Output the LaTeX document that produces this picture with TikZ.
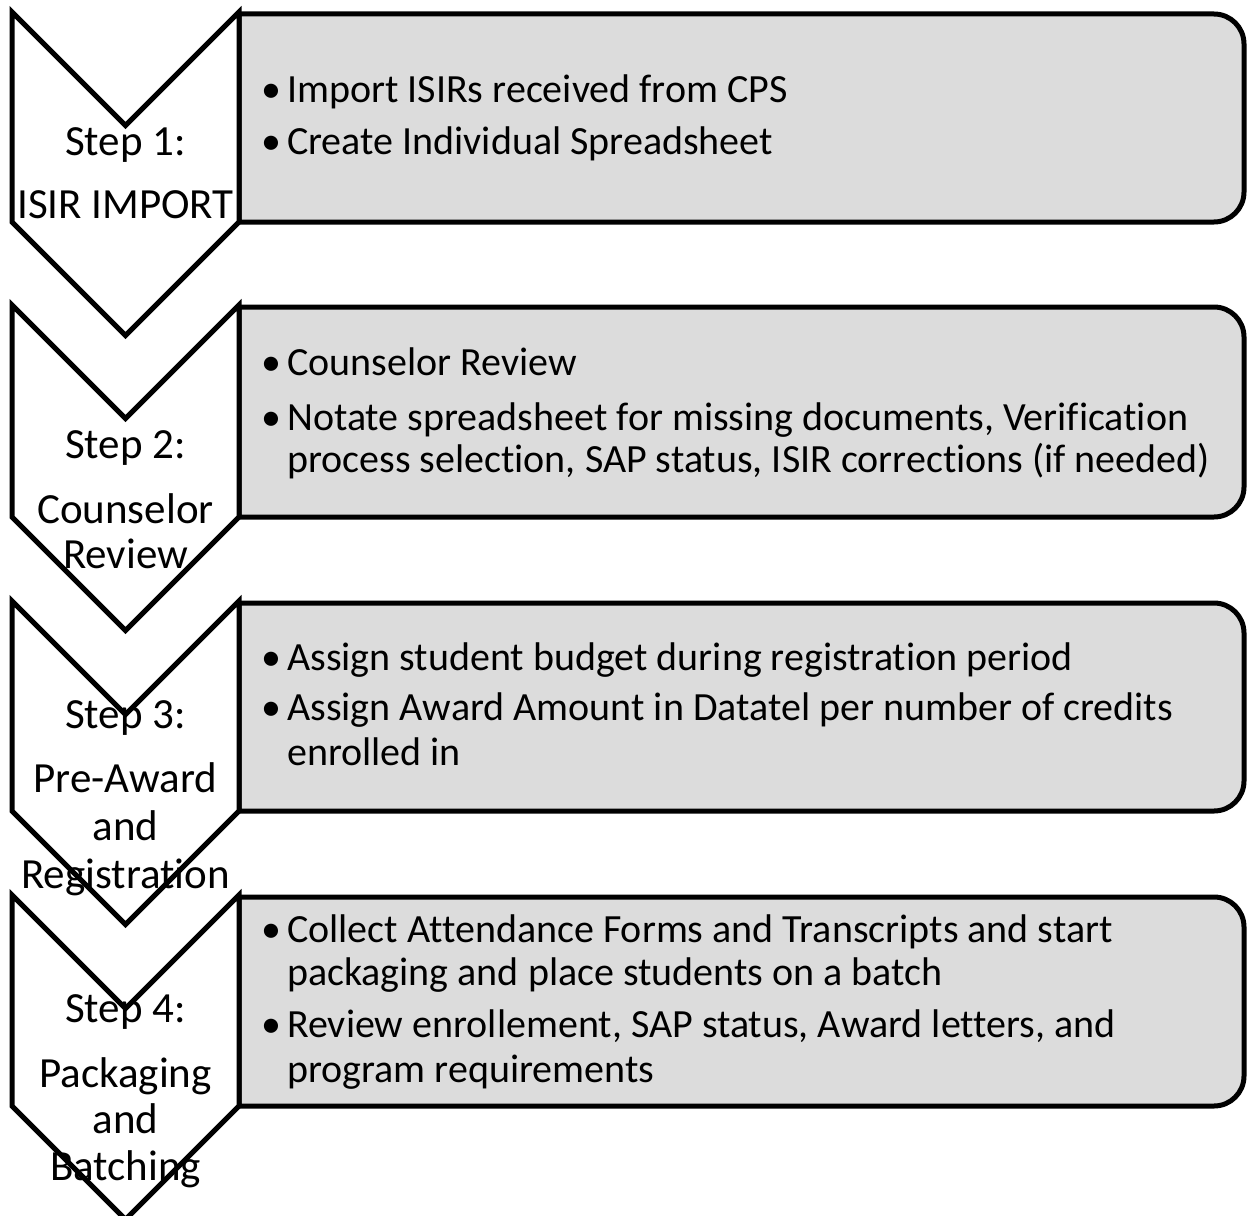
\documentclass[tikz,border=0pt]{standalone}
\usepackage{fontspec}
\setmainfont{Carlito}[RawFeature={-liga;-clig;-calt;-dlig}]
\definecolor{boxgray}{HTML}{DCDCDC}
\begin{document}
\begin{tikzpicture}[x=1pt,y=-1pt,
  chev/.style={draw=black,line width=5pt,fill=white,line join=miter},
  listbox/.style={draw=black,line width=5pt,fill=boxgray},
  lbl/.style={inner sep=0pt,anchor=base,font=\fontsize{43}{48}\selectfont},
  bul/.style={inner sep=0pt,anchor=base,font=\fontsize{40}{46}\selectfont},
  itm/.style={inner sep=0pt,anchor=base west,font=\fontsize{40}{46}\selectfont}]
\useasboundingbox (0,0) rectangle (1247,1215);
\clip (0,0) rectangle (1247,1215);
% boxes: top / bottom
\foreach \t/\b in {14/222, 307/517, 603/811, 897/1106}{
  \draw[listbox] (239,\t) -- (1214,\t) arc[start angle=-90,end angle=0,radius=30]
     -- (1244,{\b-30}) arc[start angle=0,end angle=90,radius=30] -- (239,\b) -- cycle;
  \draw[chev] (12,{\t-2}) -- (125.5,{\t-2+113.5}) -- (239,{\t-2}) -- (239,\b)
     -- (125.5,{\b+113.5}) -- (12,\b) -- cycle;
}
% chevron labels
\node[lbl] (s1a) at (125.5,155) {Step 1:};
\node[lbl] (s1b) at (125.5,218) {ISIR IMPORT};
\node[lbl] (s2a) at (125.5,458) {Step 2:};
\node[lbl] (s2b) at (125.5,523) {Counselor};
\node[lbl] (s2c) at (125.5,568) {Review};
\node[lbl] (s3a) at (125.5,728) {Step 3:};
\node[lbl] (s3b) at (125.5,792) {Pre-Award};
\node[lbl] (s3c) at (125.5,840) {and};
\node[lbl] (s3d) at (125.5,888) {Registration};
\node[lbl] (s4a) at (125.5,1022) {Step 4:};
\node[lbl] (s4b) at (125.5,1087) {Packaging};
\node[lbl] (s4c) at (125.5,1133) {and};
\node[lbl] (s4d) at (125.5,1180) {Batching};
% box 1
\node[bul] (b1a) at (271,102) {•};
\node[itm] (t1a) at (287,102) {Import ISIRs received from CPS};
\node[bul] (b1b) at (271,154) {•};
\node[itm] (t1b) at (287,154) {Create Individual Spreadsheet};
% box 2
\node[bul] (b2a) at (271,375) {•};
\node[itm] (t2a) at (287,375) {Counselor Review};
\node[bul] (b2b) at (271,430) {•};
\node[itm] (t2b) at (287,430) {Notate spreadsheet for missing documents, Verification};
\node[itm] (t2c) at (287,472) {process selection, SAP status, ISIR corrections (if needed)};
% box 3
\node[bul] (b3a) at (271,670) {•};
\node[itm] (t3a) at (287,670) {Assign student budget during registration period};
\node[bul] (b3b) at (271,720) {•};
\node[itm] (t3b) at (287,720) {Assign Award Amount in Datatel per number of credits};
\node[itm] (t3c) at (287,765) {enrolled in};
% box 4
\node[bul] (b4a) at (271,942) {•};
\node[itm] (t4a) at (287,942) {Collect Attendance Forms and Transcripts and start};
\node[itm] (t4b) at (287,985) {packaging and place students on a batch};
\node[bul] (b4b) at (271,1037) {•};
\node[itm] (t4c) at (287,1037) {Review enrollement, SAP status, Award letters, and};
\node[itm] (t4d) at (287,1082) {program requirements};
\end{tikzpicture}
\end{document}
